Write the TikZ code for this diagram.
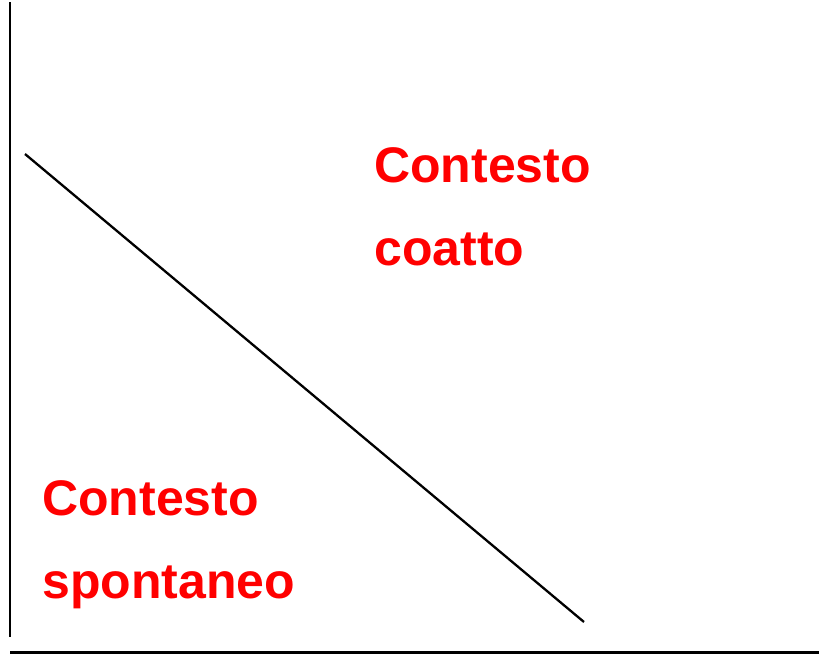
\documentclass[tikz,border=0pt]{standalone}
\usepackage{fontspec}
\setmainfont{Liberation Sans}
\begin{document}
\begin{tikzpicture}[x=1pt,y=-1pt,
  lbl/.style={anchor=base west,inner sep=0pt,text=red,font=\fontsize{50}{50}\selectfont\bfseries},
  axis/.style={line width=2.8pt,black},
  diag/.style={line width=2.3pt,black}]
\useasboundingbox (0,0) rectangle (819,656);
\coordinate (ytop) at (10,2);
\coordinate (ybot) at (10,637);
\coordinate (xl) at (10,652.5);
\coordinate (xr) at (819,652.5);
\coordinate (d1) at (25,154);
\coordinate (d2) at (584,622);
\draw[axis] (ytop) -- (ybot);
\draw[axis] (xl) -- (xr);
\draw[diag] (d1) -- (d2);
\node[lbl] (c1) at (374,182) {Contesto};
\node[lbl] (c2) at (374,265) {coatto};
\node[lbl] (s1) at (42,515) {Contesto};
\node[lbl] (s2) at (42,598) {spontaneo};
\end{tikzpicture}
\end{document}
